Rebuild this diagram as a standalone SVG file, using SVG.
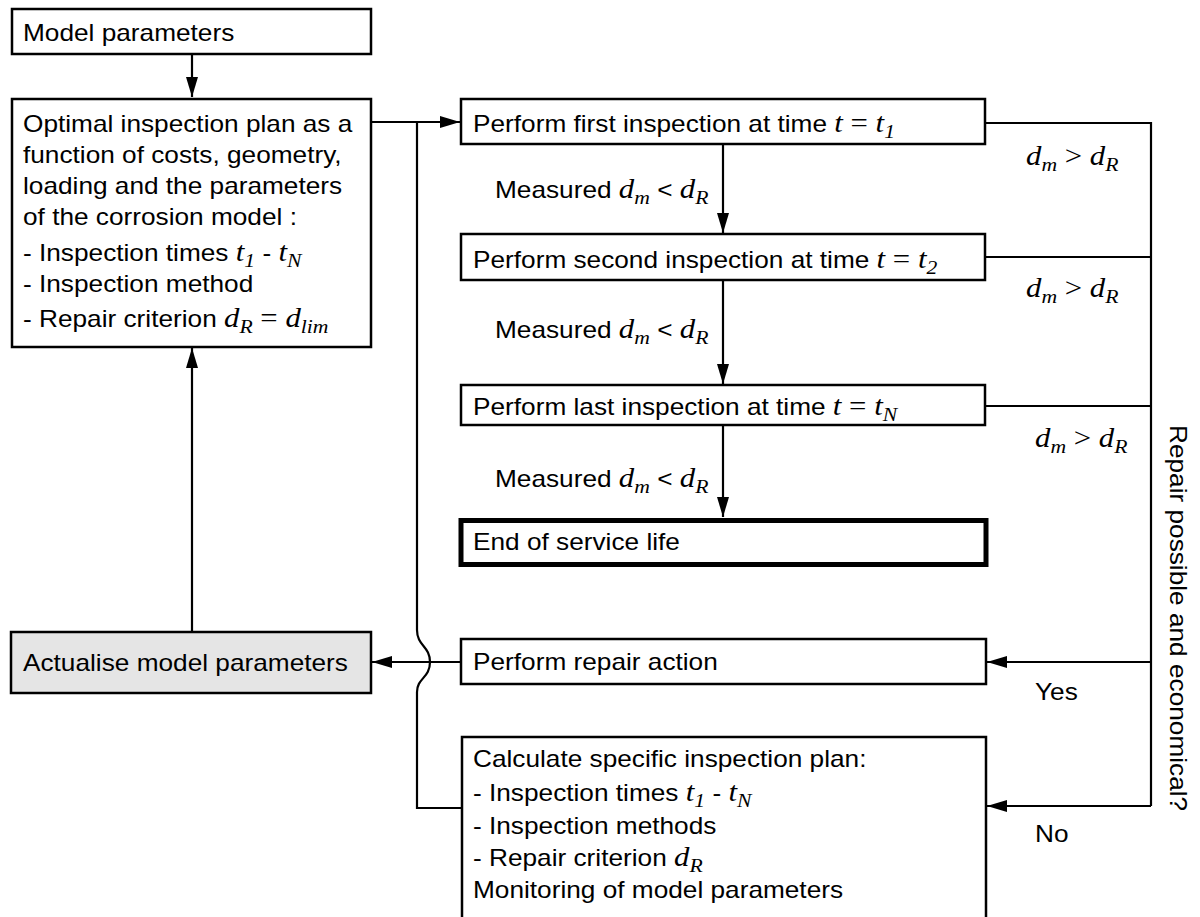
<svg xmlns="http://www.w3.org/2000/svg" width="1200" height="917" viewBox="0 0 1200 917">
  <defs>
    <marker id="arrow" markerUnits="userSpaceOnUse" markerWidth="20" markerHeight="12" refX="20" refY="6" orient="auto">
      <path d="M0,0 L20,6 L0,12 z" fill="#000"/>
    </marker>
    <style>
      .box { fill: #fff; stroke: #000; stroke-width: 2.5; }
      .grey { fill: #e5e5e5; }
      .final { stroke-width: 5; }
      .line { fill: none; stroke: #000; stroke-width: 2.2; }
      .arr { marker-end: url(#arrow); }
      .t { font-family: "Liberation Sans", Arial, Helvetica, sans-serif; font-size: 23px; fill: #000; }
      .m { font-family: "Liberation Serif", "Times New Roman", serif; font-style: italic; font-size: 27px; }
      .r { font-family: "Liberation Serif", "Times New Roman", serif; font-size: 27px; }
      .s { font-size: 19px; }
    </style>
  </defs>

  <!-- connectors -->
  <g id="connectors">
    <path class="line arr" d="M192,54 V97"/>
    <path class="line arr" d="M192,632 V348"/>
    <path class="line arr" d="M371,122 H460"/>
    <path class="line" d="M417,122 V630 C417,646 430,646 430,662 C430,678 417,678 417,692 V808 H462"/>
    <path class="line arr" d="M723,144 V233"/>
    <path class="line arr" d="M723,280 V384"/>
    <path class="line arr" d="M723,425 V517"/>
    <path class="line arr" d="M461,662 H372"/>
    <path class="line" d="M985,123 H1151 V806"/>
    <path class="line" d="M985,257 H1151"/>
    <path class="line" d="M985,406 H1151"/>
    <path class="line arr" d="M1151,662 H987"/>
    <path class="line arr" d="M1151,806 H987"/>
  </g>

  <!-- connector labels -->
  <g id="labels">
    <text class="t" transform="translate(495 198) scale(1.14 1)">Measured <tspan class="m">d</tspan><tspan class="m s" dy="6">m</tspan><tspan dy="-6"> &lt; </tspan><tspan class="m">d</tspan><tspan class="m s" dy="6">R</tspan></text>
    <text class="t" transform="translate(495 338) scale(1.14 1)">Measured <tspan class="m">d</tspan><tspan class="m s" dy="6">m</tspan><tspan dy="-6"> &lt; </tspan><tspan class="m">d</tspan><tspan class="m s" dy="6">R</tspan></text>
    <text class="t" transform="translate(495 487) scale(1.14 1)">Measured <tspan class="m">d</tspan><tspan class="m s" dy="6">m</tspan><tspan dy="-6"> &lt; </tspan><tspan class="m">d</tspan><tspan class="m s" dy="6">R</tspan></text>
    <text class="t" transform="translate(1026 165) scale(1.14 1)"><tspan class="m">d</tspan><tspan class="m s" dy="6">m</tspan><tspan class="r" dy="-6"> &gt; </tspan><tspan class="m">d</tspan><tspan class="m s" dy="6">R</tspan></text>
    <text class="t" transform="translate(1026 297) scale(1.14 1)"><tspan class="m">d</tspan><tspan class="m s" dy="6">m</tspan><tspan class="r" dy="-6"> &gt; </tspan><tspan class="m">d</tspan><tspan class="m s" dy="6">R</tspan></text>
    <text class="t" transform="translate(1035 447) scale(1.14 1)"><tspan class="m">d</tspan><tspan class="m s" dy="6">m</tspan><tspan class="r" dy="-6"> &gt; </tspan><tspan class="m">d</tspan><tspan class="m s" dy="6">R</tspan></text>
    <text class="t" transform="translate(1035 700) scale(1.14 1)">Yes</text>
    <text class="t" transform="translate(1035 842) scale(1.14 1)">No</text>
    <text class="t" transform="translate(1170 425) rotate(90) scale(1.14 1)">Repair possible and economical?</text>
  </g>

  <g id="model-parameters">
    <rect class="box" x="12" y="9" width="359" height="45"/>
    <text class="t" transform="translate(23 41) scale(1.14 1)">Model parameters</text>
  </g>

  <g id="optimal-plan">
    <rect class="box" x="12" y="99" width="359" height="248"/>
    <text class="t" transform="translate(23 132) scale(1.14 1)">Optimal inspection plan as a</text>
    <text class="t" transform="translate(23 163) scale(1.14 1)">function of costs, geometry,</text>
    <text class="t" transform="translate(23 194) scale(1.14 1)">loading and the parameters</text>
    <text class="t" transform="translate(23 225) scale(1.14 1)">of the corrosion model :</text>
    <text class="t" transform="translate(23 261) scale(1.14 1)">- Inspection times <tspan class="m">t</tspan><tspan class="m s" dy="6">1</tspan><tspan dy="-6"> - </tspan><tspan class="m">t</tspan><tspan class="m s" dy="6">N</tspan></text>
    <text class="t" transform="translate(23 292) scale(1.14 1)">- Inspection method</text>
    <text class="t" transform="translate(23 327) scale(1.14 1)">- Repair criterion <tspan class="m">d</tspan><tspan class="m s" dy="6">R</tspan><tspan class="r" dy="-6"> = </tspan><tspan class="m">d</tspan><tspan class="m s" dy="6">lim</tspan></text>
  </g>

  <g id="actualise">
    <rect class="box grey" x="11" y="632" width="360" height="61"/>
    <text class="t" transform="translate(23 671) scale(1.14 1)">Actualise model parameters</text>
  </g>

  <g id="first-inspection">
    <rect class="box" x="461" y="99" width="524" height="45"/>
    <text class="t" transform="translate(473 132) scale(1.14 1)">Perform first inspection at time <tspan class="m">t</tspan><tspan class="r"> = </tspan><tspan class="m">t</tspan><tspan class="m s" dy="6">1</tspan></text>
  </g>

  <g id="second-inspection">
    <rect class="box" x="461" y="234" width="524" height="46"/>
    <text class="t" transform="translate(473 268) scale(1.14 1)">Perform second inspection at time <tspan class="m">t</tspan><tspan class="r"> = </tspan><tspan class="m">t</tspan><tspan class="m s" dy="6">2</tspan></text>
  </g>

  <g id="last-inspection">
    <rect class="box" x="461" y="385" width="524" height="40"/>
    <text class="t" transform="translate(473 415) scale(1.14 1)">Perform last inspection at time <tspan class="m">t</tspan><tspan class="r"> = </tspan><tspan class="m">t</tspan><tspan class="m s" dy="6">N</tspan></text>
  </g>

  <g id="end-of-life">
    <rect class="box final" x="461" y="520.5" width="525" height="44"/>
    <text class="t" transform="translate(473 550) scale(1.14 1)">End of service life</text>
  </g>

  <g id="repair-action">
    <rect class="box" x="461" y="639" width="525" height="45"/>
    <text class="t" transform="translate(473 670) scale(1.14 1)">Perform repair action</text>
  </g>

  <g id="specific-plan">
    <rect class="box" x="462" y="737" width="524" height="200"/>
    <text class="t" transform="translate(473 767) scale(1.14 1)">Calculate specific inspection plan:</text>
    <text class="t" transform="translate(473 801) scale(1.14 1)">- Inspection times <tspan class="m">t</tspan><tspan class="m s" dy="6">1</tspan><tspan dy="-6"> - </tspan><tspan class="m">t</tspan><tspan class="m s" dy="6">N</tspan></text>
    <text class="t" transform="translate(473 834) scale(1.14 1)">- Inspection methods</text>
    <text class="t" transform="translate(473 866) scale(1.14 1)">- Repair criterion <tspan class="m">d</tspan><tspan class="m s" dy="6">R</tspan></text>
    <text class="t" transform="translate(473 898) scale(1.14 1)">Monitoring of model parameters</text>
  </g>
</svg>
